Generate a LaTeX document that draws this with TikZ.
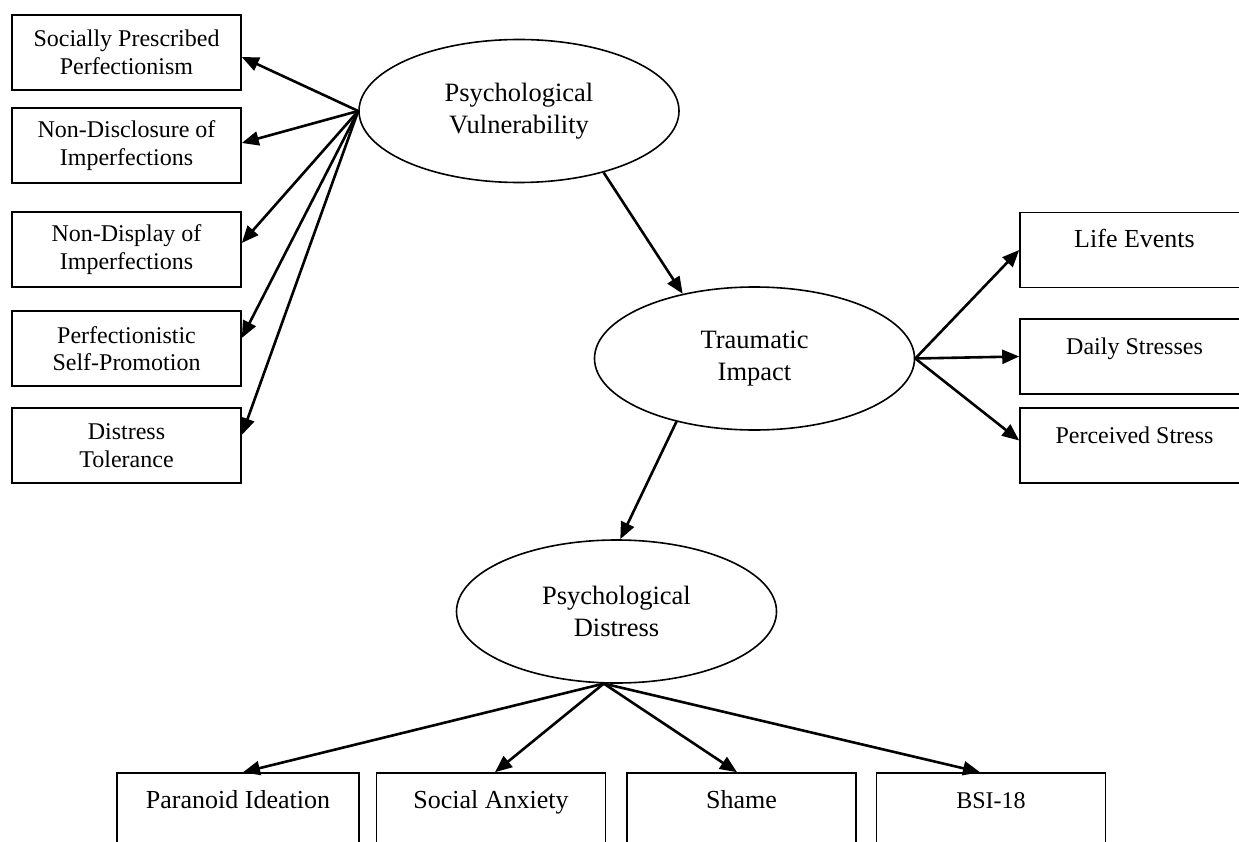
\documentclass[tikz,border=0pt]{standalone}
\usepackage{fontspec}
\setmainfont{Liberation Serif}
\usetikzlibrary{arrows.meta,shapes.geometric}

\begin{document}
\begin{tikzpicture}[x=1pt, y=-1pt, >={Triangle[length=17pt,width=14pt]},
  item/.style={draw, line width=1.6pt, minimum width=229pt, minimum height=75pt, inner sep=0pt, align=center, font=\fontsize{24}{27.5}\selectfont},
  topbox/.style={draw, line width=1.6pt, minimum width=229pt, inner sep=0pt, text height=35pt, text depth=40pt, font=\fontsize{26}{30}\selectfont},
  smalltext/.style={font=\fontsize{24}{28}\selectfont},
  latent/.style={draw, ellipse, line width=1.6pt, minimum width=320pt, minimum height=143pt, inner sep=0pt, align=center, font=\fontsize{26.5}{32}\selectfont},
  link/.style={->, line width=2.6pt}]
\useasboundingbox (0,0) rectangle (1239,842);
\clip (0,0) rectangle (1239,842);
% indicators of vulnerability
\node[item] (spp) at (126.5,52.5)  {Socially Prescribed\\Perfectionism};
\node[item] (ndc) at (126.5,145.5) {Non-Disclosure of\\Imperfections};
\node[item] (ndp) at (126.5,249.5) {Non-Display of\\Imperfections};
\node[item] (psp) at (126.5,348.5) {Perfectionistic\\Self-Promotion};
\node[item] (dt)  at (126.5,445.5) {Distress\\Tolerance};
% latent variables
\node[latent] (pv) at (519,111)     {Psychological\\Vulnerability};
\node[latent] (ti) at (754.5,358.5) {Traumatic\\Impact};
\node[latent] (pd) at (616.5,611.5) {Psychological\\Distress};
% stress indicators
\node[topbox]            (le) at (1134.5,250)   {Life Events};
\node[topbox, smalltext] (ds) at (1134.5,356.5) {Daily Stresses};
\node[topbox, smalltext] (ps) at (1134.5,445.5) {Perceived Stress};
% distress indicators
\node[topbox, minimum width=242pt] (pi) at (238,810.5)   {Paranoid Ideation};
\node[topbox]                      (sa) at (491,810.5)   {Social Anxiety};
\node[topbox]                      (sh) at (741.5,810.5) {Shame};
\node[topbox, smalltext]          (bsi) at (991,810.5)   {BSI-18};
\draw[link] (pv.west) -- ([yshift=-4.5pt]spp.east);
\draw[link] (pv.west) -- ([yshift=2.5pt]ndc.east);
\draw[link] (pv.west) -- ([yshift=6.5pt]ndp.east);
\draw[link] (pv.west) -- ([yshift=10.5pt]psp.east);
\draw[link] (pv.west) -- ([yshift=10.5pt]dt.east);
\draw[link] (pv.-36) -- (ti.138);
\draw[link] (ti.east) -- (le.west);
\draw[link] (ti.east) -- (ds.west);
\draw[link] (ti.east) -- ([yshift=5pt]ps.west);
\draw[link] (ti.219) -- (pd.87);
\draw[link] (pd.260) -- ([xshift=5pt]pi.north);
\draw[link] (pd.260) -- ([xshift=4pt]sa.north);
\draw[link] (pd.260) -- ([xshift=-4.5pt]sh.north);
\draw[link] (pd.260) -- ([xshift=-11pt]bsi.north);
\end{tikzpicture}
\end{document}
